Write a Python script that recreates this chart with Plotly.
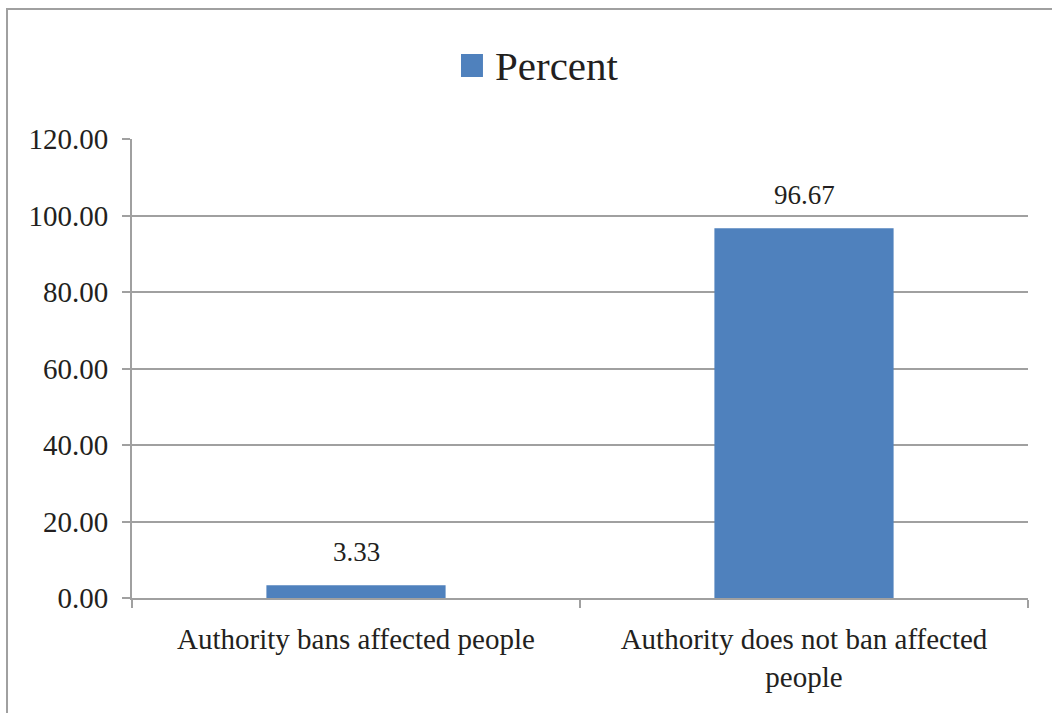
import plotly.graph_objects as go

# Survey result: share of respondents by authority response
categories = ["Authority bans affected people", "Authority does not ban affected<br>people"]
percent = [3.33, 96.67]
series_name = "Percent"
y_ticks = [0, 20, 40, 60, 80, 100, 120]

BAR_COLOR = "#4f81bd"
GRID = "#a0a0a0"
TEXT = "#231f20"
FONT = "Times New Roman, Liberation Serif, Tinos, serif"

fig = go.Figure()
fig.add_trace(go.Bar(
    x=categories,
    y=percent,
    name=series_name,
    marker=dict(color=BAR_COLOR, line=dict(width=0)),
    showlegend=False,
))

# value labels above each bar
for cat, val in zip(categories, percent):
    fig.add_annotation(
        x=cat, y=val, xref="x", yref="y",
        text=f"{val:.2f}", showarrow=False,
        yanchor="bottom", yshift=16,
        font=dict(family=FONT, size=27, color=TEXT),
    )

# legend swatch and label
fig.add_shape(type="rect", xref="paper", yref="paper",
              x0=0.3672, x1=0.3917, y0=1.1351, y1=1.1852,
              fillcolor=BAR_COLOR, line=dict(width=0))
fig.add_annotation(x=0.403, y=1.159, xref="paper", yref="paper",
                   text=series_name, showarrow=False,
                   xanchor="left", yanchor="middle",
                   font=dict(family=FONT, size=41, color=TEXT))

# chart frame
fig.add_shape(type="rect", xref="paper", yref="paper",
              x0=-0.1395, x1=1.2, y0=-0.4, y1=1.2832,
              line=dict(color=GRID, width=2), fillcolor="rgba(0,0,0,0)",
              layer="below")

fig.update_layout(
    width=1052, height=713,
    margin=dict(l=132, r=24, t=139, b=115),
    paper_bgcolor="white", plot_bgcolor="white",
    bargap=0.6,
    font=dict(family=FONT, size=29, color=TEXT),
    showlegend=False,
    xaxis=dict(
        showline=True, linecolor=GRID, linewidth=2,
        ticks="outside", tickson="boundaries", ticklen=8,
        tickwidth=2, tickcolor=GRID, showgrid=False,
        ticklabelstandoff=14,
        tickfont=dict(family=FONT, size=29, color=TEXT),
    ),
    yaxis=dict(
        range=[0, 120], tickvals=y_ticks, tickformat=".2f",
        showline=True, linecolor=GRID, linewidth=2,
        ticks="outside", ticklen=8, tickwidth=2, tickcolor=GRID,
        showgrid=True, gridcolor=GRID, gridwidth=2, zeroline=False,
        ticklabelstandoff=8,
        tickfont=dict(family=FONT, size=29, color=TEXT),
    ),
)

fig.write_html("out.html")
